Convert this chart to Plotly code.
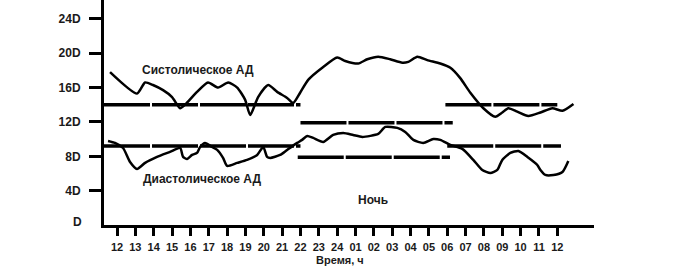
import plotly.graph_objects as go

hours = ["12", "13", "14", "15", "16", "17", "18", "19", "20", "21", "22", "23", "24",
         "01", "02", "03", "04", "05", "06", "07", "08", "09", "10", "11", "12"]
y_ticks = [4, 8, 12, 16, 20, 24]
y_ticktext = ["4D", "8D", "12D", "16D", "20D", "24D"]

sys_x = [-0.38, 1.09, 1.53, 1.96, 2.51, 3.0, 3.44, 3.71, 4.36, 4.96, 5.51, 6.06, 6.55, 6.98,
         7.26, 7.69, 8.24, 8.73, 9.27, 9.6, 9.98, 10.42, 11.24, 12.0, 12.44, 13.15, 13.64,
         14.24, 14.89, 15.55, 15.88, 16.37, 16.91, 17.62, 18.17, 18.71, 19.26, 19.97, 20.62,
         21.0, 21.33, 21.82, 22.42, 23.08, 23.73, 24.28, 24.88]
sys_y = [17.8, 15.3, 16.6, 16.3, 15.7, 14.9, 13.6, 14.0, 15.5, 16.6, 16.0, 16.6, 16.0, 14.6,
         12.8, 14.9, 16.3, 15.5, 14.8, 14.2, 15.4, 16.9, 18.4, 19.5, 19.1, 18.8, 19.3,
         19.6, 19.3, 18.9, 19.0, 19.6, 19.2, 18.8, 18.3, 17.1, 15.4, 13.6, 12.6,
         13.1, 13.6, 13.2, 12.7, 13.1, 13.6, 13.3, 14.1]

dia_x = [-0.49, -0.11, 0.33, 0.71, 1.09, 1.53, 2.18, 2.89, 3.44, 3.6, 3.82, 4.09, 4.36, 4.53,
         4.8, 5.18, 5.46, 5.78, 6.0, 6.55, 7.09, 7.64, 7.97, 8.18, 8.35, 8.89, 9.27, 9.82,
         10.09, 10.37, 10.69, 11.24, 11.78, 12.33, 12.87, 13.37, 14.24, 14.62, 15.28, 15.71,
         16.15, 16.69, 17.24, 17.62, 18.17, 18.82, 19.42, 19.91, 20.35, 20.73, 21.0, 21.44,
         21.88, 22.37, 22.91, 23.08, 23.35, 23.79, 24.28, 24.6]
dia_y = [9.79, 9.56, 8.97, 7.34, 6.53, 7.23, 7.93, 8.51, 8.97, 7.93, 7.69, 8.16, 8.39, 9.09,
         9.56, 9.09, 8.74, 7.81, 6.88, 7.23, 7.58, 8.16, 9.09, 7.93, 7.81, 8.16, 8.74, 9.56,
         9.91, 10.37, 10.14, 9.67, 10.49, 10.72, 10.49, 10.26, 10.61, 11.42, 11.31, 10.84,
         9.91, 9.56, 10.02, 9.91, 9.32, 8.86, 7.58, 6.41, 6.06, 6.41, 7.58, 8.39,
         8.62, 7.93, 6.99, 6.41, 5.83, 5.83, 6.18, 7.46]

# reference (mean) levels: [x_start, x_end, level]
ref_levels = [
    (-0.71, 10.0, 14.0),
    (-0.71, 10.0, 9.2),
    (10.0, 18.3, 11.9),
    (9.85, 18.15, 7.9),
    (17.9, 24.0, 14.0),
    (18.0, 24.2, 9.2),
]

fig = go.Figure()
for xs, xe, lv in ref_levels:
    fig.add_trace(go.Scatter(x=[xs, xe], y=[lv, lv], mode="lines",
                             line=dict(color="black", width=3.5, dash="46px,2px"),
                             hoverinfo="skip", showlegend=False))

fig.add_trace(go.Scatter(x=sys_x, y=sys_y, mode="lines",
                         line=dict(color="black", width=2.5, shape="spline", smoothing=0.6),
                         showlegend=False))
fig.add_trace(go.Scatter(x=dia_x, y=dia_y, mode="lines",
                         line=dict(color="black", width=2.5, shape="spline", smoothing=0.6),
                         showlegend=False))

font_b = dict(family="Liberation Sans", size=12, color="#1a1a1a", weight="bold")
font_x = dict(family="Liberation Sans", size=11, color="#1a1a1a", weight="bold")

fig.update_layout(
    width=680, height=266,
    margin=dict(l=104, r=86, t=0, b=41),
    paper_bgcolor="white", plot_bgcolor="white",
    showlegend=False,
    font=font_b,
    xaxis=dict(range=[-0.71, 26.0], tickmode="array", tickvals=list(range(len(hours))),
               ticktext=hours, showgrid=False, zeroline=False, showline=True,
               linecolor="black", linewidth=3, ticks="outside", ticklen=8, tickwidth=3,
               tickcolor="black", tickfont=font_x, ticklabelstandoff=2),
    yaxis=dict(range=[0, 26.2], tickmode="array", tickvals=y_ticks, ticktext=y_ticktext,
               showgrid=False, zeroline=False, showline=True, linecolor="black",
               linewidth=3, ticks="outside", ticklen=12, tickwidth=3, tickcolor="black",
               tickfont=font_b, ticklabelstandoff=6),
    annotations=[
        dict(x=4.42, y=18.06, xref="x", yref="y", text="Систолическое АД", showarrow=False,
             font=font_b),
        dict(x=4.64, y=5.36, xref="x", yref="y", text="Диастолическое АД", showarrow=False,
             font=font_b),
        dict(x=13.97, y=2.91, xref="x", yref="y", text="Ночь", showarrow=False, font=font_b),
        dict(x=12.18, y=-0.147, xref="x", yref="paper", yanchor="middle", yshift=-2,
             text="Время, ч", showarrow=False,
             font=dict(family="Liberation Sans", size=11, color="#1a1a1a", weight="bold")),
        dict(x=-0.71, y=0.4, xref="x", yref="y", text="D", showarrow=False,
             xanchor="right", xshift=-20, font=font_b),
    ],
)

fig.write_html("out.html")
